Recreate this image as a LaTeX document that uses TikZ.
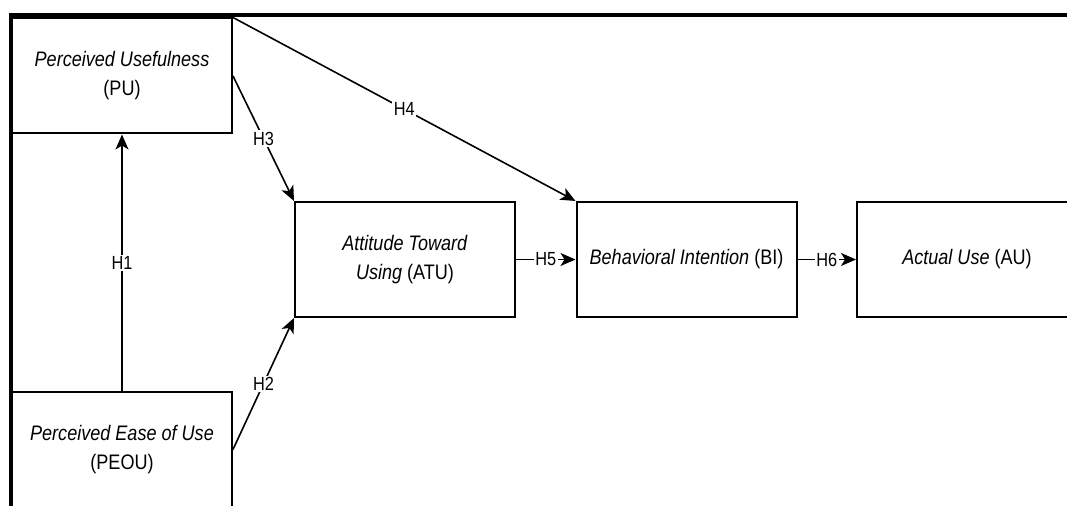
\documentclass[tikz,border=0pt]{standalone}
\usepackage{fontspec}
\setmainfont{Liberation Sans}[FakeStretch=0.86]
\usetikzlibrary{arrows.meta}

\begin{document}
\begin{tikzpicture}[x=0.5pt,y=-0.5pt,
	box/.style={draw,line width=1pt,minimum width=110pt,minimum height=57.5pt,align=center,inner sep=0pt,font=\fontsize{10.5}{14.5}\selectfont},
	hyp/.style={-{Stealth[length=7.5pt,width=6.5pt,inset=2pt]},line width=0.8pt},
	lbl/.style={fill=white,inner sep=0.8pt,font=\fontsize{9.5}{10}\selectfont}]
	\useasboundingbox (0,0) rectangle (1067,506);
	\draw[line width=2pt] (11,506) -- (11,15) -- (1067,15);

	\node[box] (pu) at (122,76) {\textit{Perceived Usefulness}\\(PU)};
	\node[box] (peou) at (122,449.5) {\textit{Perceived Ease of Use}\\(PEOU)};
	\node[box] (atu) at (405,259.5) {\textit{Attitude Toward}\\\textit{Using} (ATU)};
	\node[box] (bi) at (686.5,259.5) {\textit{Behavioral Intention} (BI)};
	\node[box] (au) at (967,259.5) {\textit{Actual Use} (AU)};

	\draw[hyp] (peou) -- node[lbl] {H1} (pu);
	\draw[hyp] (peou.east) -- node[lbl] {H2} (atu.south west);
	\draw[hyp] (pu.east) -- node[lbl] {H3} (atu.north west);
	\draw[hyp] (pu.north east) -- node[lbl] {H4} (bi.north west);
	\foreach \a/\b/\h in {atu/bi/H5, bi/au/H6} {
		\draw[hyp] (\a) -- node[lbl] {\h} (\b);
	}
	% H5, H6 sit on the main chain
\end{tikzpicture}
\end{document}
